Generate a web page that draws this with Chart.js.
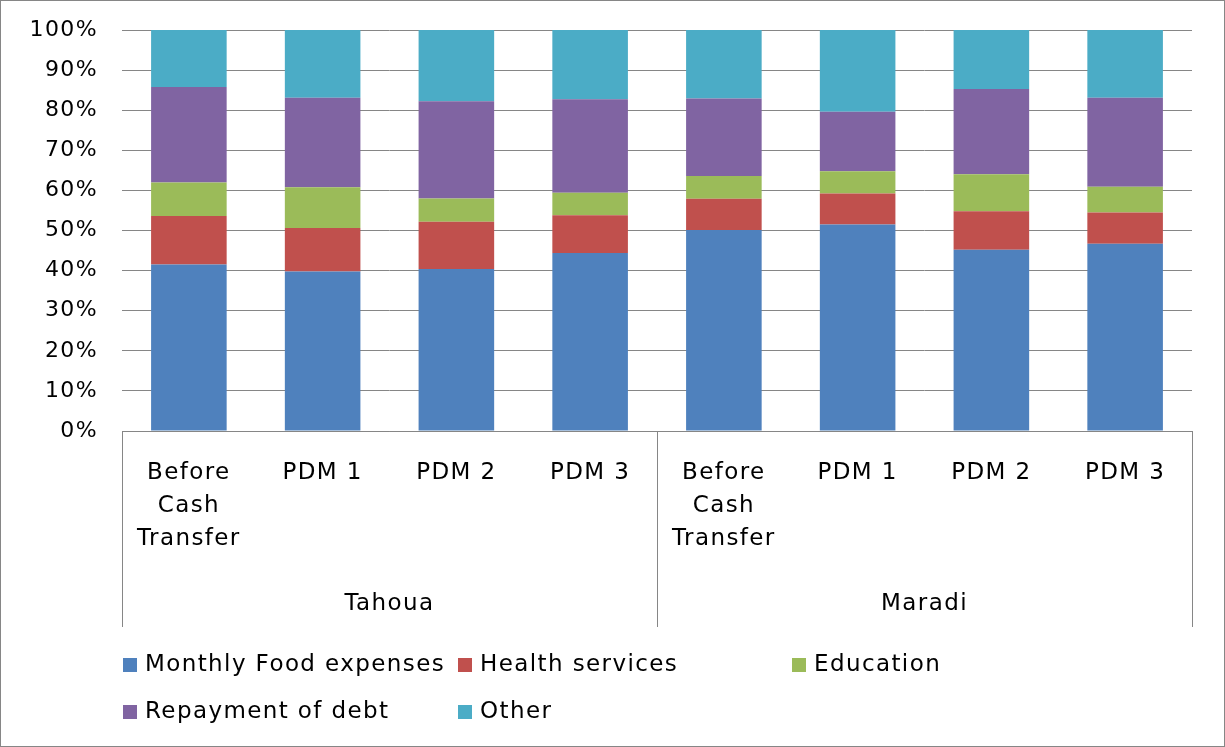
<!DOCTYPE html>
<html>
<head>
<meta charset="utf-8">
<script src="https://cdn.jsdelivr.net/npm/chart.js@4"></script>
<style>
html, body { margin: 0; padding: 0; background: #fff; }
#wrap { width: 1225px; height: 747px; }
</style>
</head>
<body>
<div id="wrap"><canvas id="chart" width="1225" height="747"></canvas></div>
<script>
// categories and groups
const categories = [['Before', 'Cash', 'Transfer'], 'PDM 1', 'PDM 2', 'PDM 3',
                    ['Before', 'Cash', 'Transfer'], 'PDM 1', 'PDM 2', 'PDM 3'];
const regions = ['Tahoua', 'Maradi'];

// shares in %
const foodExpenses   = [41.5, 39.8, 40.4, 44.4, 50.1, 51.5, 45.2, 46.7];
const healthServices = [12.1, 10.8, 11.8, 9.4, 7.8, 7.75, 9.6, 7.8];
const education      = [8.4, 10.2, 5.8, 5.6, 5.7, 5.5, 9.2, 6.4];
const debtRepayment  = [23.8, 22.3, 24.25, 23.35, 19.3, 14.85, 21.3, 22.2];
const other          = [14.2, 16.9, 17.75, 17.25, 17.1, 20.4, 14.7, 16.9];

const seriesNames = ['Monthly Food expenses', 'Health services', 'Education', 'Repayment of debt', 'Other'];
const seriesColors = ['#4F81BD', '#C0504D', '#9BBB59', '#8064A2', '#4BACC6'];

const fontFamily = '"DejaVu Sans", sans-serif';
const fontSize = 23;
const lineGray = '#868686';

// wider letter spacing, closer to the original Century Gothic look
const spacing = {
    id: 'spacing',
    beforeDraw(chart) { chart.ctx.letterSpacing = '1.4px'; }
};

// dividers, group labels, legend, frame
const decorations = {
    id: 'decorations',
    afterDraw(chart) {
        const ctx = chart.ctx;
        const x = chart.scales.x;
        const area = chart.chartArea;
        const perGroup = categories.length / regions.length;
        const step = x.getPixelForValue(1) - x.getPixelForValue(0);

        ctx.save();
        ctx.strokeStyle = lineGray;
        ctx.lineWidth = 1;
        for (let g = 0; g <= regions.length; g++) {
            const px = Math.round(x.getPixelForValue(g * perGroup) - step / 2) + 0.5;
            ctx.beginPath();
            ctx.moveTo(px, area.bottom);
            ctx.lineTo(px, 627);
            ctx.stroke();
        }

        ctx.fillStyle = '#000';
        ctx.font = fontSize + 'px ' + fontFamily;
        ctx.textAlign = 'center';
        ctx.textBaseline = 'middle';
        regions.forEach((name, g) => {
            const a = x.getPixelForValue(g * perGroup);
            const b = x.getPixelForValue((g + 1) * perGroup - 1);
            ctx.fillText(name, (a + b) / 2, 604);
        });

        // legend
        const cols = [123, 458, 792];
        const rows = [665, 712];
        ctx.textAlign = 'left';
        chart.data.datasets.forEach((ds, i) => {
            const bx = cols[i % 3];
            const by = rows[Math.floor(i / 3)];
            ctx.fillStyle = ds.backgroundColor;
            ctx.fillRect(bx, by - 7, 14, 14);
            ctx.fillStyle = '#000';
            ctx.fillText(ds.label, bx + 22, by);
        });

        ctx.strokeStyle = lineGray;
        ctx.strokeRect(0.5, 0.5, chart.width - 1, chart.height - 1);
        ctx.restore();
    }
};

const datasets = [foodExpenses, healthServices, education, debtRepayment, other].map((vals, i) => ({
    label: seriesNames[i],
    data: vals,
    backgroundColor: seriesColors[i],
    borderWidth: 0,
    barPercentage: 0.565,
    categoryPercentage: 1
}));

new Chart(document.getElementById('chart'), {
    type: 'bar',
    data: { labels: categories, datasets: datasets },
    options: {
        responsive: false,
        animation: false,
        layout: { padding: { top: 30, right: 33, bottom: 0, left: 0 } },
        plugins: {
            legend: { display: false },
            tooltip: { enabled: false }
        },
        scales: {
            x: {
                stacked: true,
                grid: { display: false, drawTicks: false },
                border: { display: true, color: lineGray, width: 1 },
                ticks: {
                    color: '#000',
                    font: { family: fontFamily, size: fontSize, lineHeight: 33 / fontSize },
                    padding: 26,
                    maxRotation: 0,
                    autoSkip: false
                },
                afterFit(s) { s.height = 747 - 431; }
            },
            y: {
                stacked: true,
                min: 0,
                max: 100,
                grid: { color: lineGray, lineWidth: 1, drawTicks: false },
                border: { display: false },
                ticks: {
                    stepSize: 10,
                    color: '#000',
                    font: { family: fontFamily, size: 22 },
                    padding: 24,
                    callback: v => v + '%'
                },
                afterFit(s) {
                    s.width = 122;
                    s.paddingTop = 0;
                    s.paddingBottom = 0;
                }
            }
        }
    },
    plugins: [spacing, decorations]
});
</script>
</body>
</html>
